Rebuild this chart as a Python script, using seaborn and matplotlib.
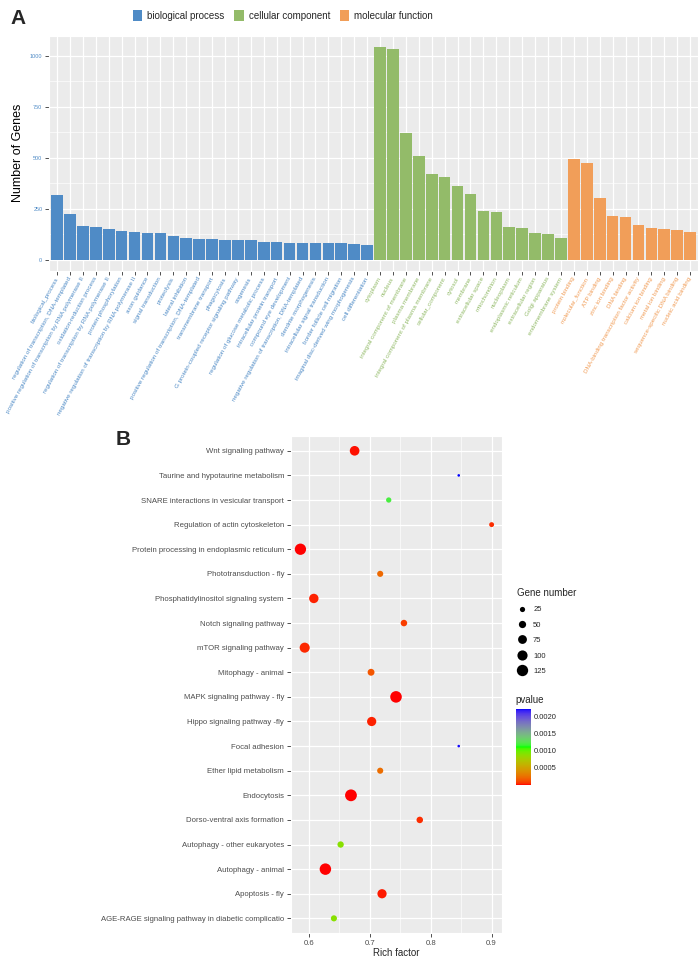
import numpy as np
import pandas as pd
import matplotlib
matplotlib.use("Agg")
import matplotlib.pyplot as plt
import seaborn as sns
from matplotlib.colors import ListedColormap, Normalize, to_rgb
from matplotlib.cm import ScalarMappable
from matplotlib.lines import Line2D
from matplotlib.patches import Patch

# ---- panel A data (GO terms) ----
bp_terms = ["biological_process", "regulation of transcription, DNA-templated",
            "positive regulation of transcription by RNA polymerase II", "oxidation-reduction process",
            "regulation of transcription by RNA polymerase II", "protein phosphorylation",
            "negative regulation of transcription by RNA polymerase II", "axon guidance",
            "signal transduction", "proteolysis", "lateral inhibition",
            "positive regulation of transcription, DNA-templated", "transmembrane transport",
            "phagocytosis", "G protein-coupled receptor signaling pathway", "oogenesis",
            "regulation of glucose metabolic process", "intracellular protein transport",
            "compound eye development", "negative regulation of transcription, DNA-templated",
            "dendrite morphogenesis", "intracellular signal transduction",
            "border follicle cell migration", "imaginal disc-derived wing morphogenesis",
            "cell differentiation"]
bp_counts = [320, 225, 167, 162, 152, 142, 139, 131, 131, 119, 109, 103, 101, 100, 99,
             98, 88, 86, 85, 85, 83, 81, 81, 78, 74]

cc_terms = ["cytoplasm", "nucleus", "integral component of membrane", "plasma membrane",
            "integral component of plasma membrane", "cellular_component", "cytosol", "membrane",
            "extracellular space", "mitochondrion", "nucleoplasm", "endoplasmic reticulum",
            "extracellular region", "Golgi apparatus", "endomembrane system"]
cc_counts = [1045, 1035, 622, 511, 420, 407, 363, 324, 240, 234, 160, 157, 134, 129, 109]

mf_terms = ["protein binding", "molecular_function", "ATP binding", "zinc ion binding",
            "DNA binding", "DNA-binding transcription factor activity", "calcium ion binding",
            "metal ion binding", "sequence-specific DNA binding", "nucleic acid binding"]
mf_counts = [497, 474, 302, 217, 211, 172, 155, 152, 147, 137]

group_names = ["biological process", "cellular component", "molecular function"]
group_colors = ["#4F8BC6", "#93BB69", "#F19E59"]

# ---- panel B data (KEGG enrichment) ----
pathways = ["Wnt signaling pathway", "Taurine and hypotaurine metabolism",
            "SNARE interactions in vesicular transport", "Regulation of actin cytoskeleton",
            "Protein processing in endoplasmic reticulum", "Phototransduction - fly",
            "Phosphatidylinositol signaling system", "Notch signaling pathway",
            "mTOR signaling pathway", "Mitophagy - animal", "MAPK signaling pathway - fly",
            "Hippo signaling pathway -fly", "Focal adhesion", "Ether lipid metabolism",
            "Endocytosis", "Dorso-ventral axis formation", "Autophagy - other eukaryotes",
            "Autophagy - animal", "Apoptosis - fly",
            "AGE-RAGE signaling pathway in diabetic complicatio"]
rich_factor = [0.675, 0.846, 0.731, 0.900, 0.586, 0.717, 0.608, 0.756, 0.593, 0.702,
               0.743, 0.703, 0.846, 0.717, 0.669, 0.782, 0.652, 0.627, 0.720, 0.641]
gene_number = [90, 5, 26, 22, 124, 35, 85, 40, 98, 45,
               130, 82, 5, 35, 135, 40, 38, 128, 82, 35]
pvalue = [0.00001, 0.00222, 0.00120, 0.00005, 0.000001, 0.00022, 0.00003, 0.00008, 0.00004, 0.00015,
          0.000002, 0.00003, 0.00221, 0.00024, 0.0, 0.00005, 0.00090, 0.000001, 0.00002, 0.00090]


# ggplot-style red -> green -> blue gradient (interpolated in CIELAB)
M = np.array([[0.4124564, 0.3575761, 0.1804375],
              [0.2126729, 0.7151522, 0.0721750],
              [0.0193339, 0.1191920, 0.9503041]])
WHITE = np.array([0.95047, 1.0, 1.08883])


def to_lab(rgb):
    c = np.array(rgb, float)
    lin = np.where(c <= 0.04045, c / 12.92, ((c + 0.055) / 1.055) ** 2.4)
    xyz = M @ lin / WHITE
    f = np.where(xyz > 0.008856, np.cbrt(xyz), 7.787 * xyz + 16 / 116)
    return np.array([116 * f[1] - 16, 500 * (f[0] - f[1]), 200 * (f[1] - f[2])])


def from_lab(lab):
    fy = (lab[0] + 16) / 116
    f = np.array([fy + lab[1] / 500, fy, fy - lab[2] / 200])
    xyz = np.where(f ** 3 > 0.008856, f ** 3, (f - 16 / 116) / 7.787) * WHITE
    lin = np.clip(np.linalg.solve(M, xyz), 0, 1)
    return np.clip(np.where(lin <= 0.0031308, 12.92 * lin, 1.055 * lin ** (1 / 2.4) - 0.055), 0, 1)


stops = [to_lab(to_rgb(c)) for c in ["red", "lime", "blue"]]
ramp = []
for t in np.linspace(0, 1, 256):
    i = 0 if t < 0.5 else 1
    u = (t - 0.5 * i) / 0.5
    ramp.append(from_lab(stops[i] * (1 - u) + stops[i + 1] * u))
pcmap = ListedColormap(ramp)
p_norm = (0.0, 0.00222)

sns.set_style("darkgrid", {"axes.facecolor": "#EBEBEB", "grid.color": "white",
                           "xtick.bottom": True, "ytick.left": True})
plt.rcParams["font.family"] = ["Liberation Sans", "DejaVu Sans"]

fig = plt.figure(figsize=(7, 9.6), dpi=100)

# ================= panel A =================
go = pd.DataFrame({
    "term": bp_terms + cc_terms + mf_terms,
    "count": bp_counts + cc_counts + mf_counts,
    "group": [group_names[0]] * len(bp_terms) + [group_names[1]] * len(cc_terms)
             + [group_names[2]] * len(mf_terms),
})
axA = fig.add_axes([0.0704, 0.7181, 0.9266, 0.2444])
sns.barplot(data=go, x="term", y="count", hue="group", palette=group_colors,
            hue_order=group_names, dodge=False, width=0.9, saturation=1,
            linewidth=0, legend=False, ax=axA)
axA.set_xlim(-0.6, len(go) - 0.4)
axA.set_ylim(-52, 1097)
axA.set_yticks([0, 250, 500, 750, 1000])
axA.set_yticks([125, 375, 625, 875], minor=True)
axA.grid(True, which="major", color="white", linewidth=0.9)
axA.grid(True, which="minor", axis="y", color="white", linewidth=0.45)
axA.xaxis.grid(True, color="white", linewidth=0.9)
axA.set_xticks(range(len(go)))
axA.set_xticklabels(go["term"], rotation=61, ha="right", va="center",
                    rotation_mode="anchor", fontsize=4.5)
for lab, grp in zip(axA.get_xticklabels(), go["group"]):
    lab.set_color(group_colors[group_names.index(grp)])
axA.tick_params(axis="both", which="major", length=3, width=0.6, color="#333333", pad=2)
axA.tick_params(axis="y", labelsize=4, labelcolor=group_colors[0])
axA.tick_params(which="minor", length=0)
axA.set_xlabel("")
axA.set_ylabel("Number of Genes", fontsize=9, color="black", labelpad=4)

handles = [Patch(facecolor=c, edgecolor="none") for c in group_colors]
fig.legend(handles, group_names, loc="center", bbox_to_anchor=(0.404, 0.984), ncol=3,
           frameon=False, fontsize=7, handlelength=1.0, handleheight=1.4,
           handletextpad=0.5, columnspacing=1.0)
fig.text(0.026, 0.981, "A", fontsize=15, fontweight="bold", ha="center", va="center")

# ================= panel B =================
kegg = pd.DataFrame({"pathway": pathways, "rich": rich_factor,
                     "genes": gene_number, "pvalue": pvalue})
axB = fig.add_axes([0.4157, 0.028, 0.3014, 0.5178])
size_range = (3, 72)
size_norm = (4, 135)
sns.scatterplot(data=kegg, x="rich", y="pathway", size="genes", sizes=size_range,
                size_norm=size_norm, hue="pvalue", palette=pcmap, hue_norm=p_norm,
                linewidth=0, legend=False, ax=axB, zorder=3)
axB.set_ylim(len(pathways) - 0.4, -0.6)
axB.set_xlim(0.5705, 0.917)
axB.set_xticks([0.6, 0.7, 0.8, 0.9])
axB.set_xticks([0.65, 0.75, 0.85], minor=True)
axB.grid(True, which="major", color="white", linewidth=0.9)
axB.grid(True, which="minor", axis="x", color="white", linewidth=0.45)
axB.tick_params(axis="both", which="major", length=3, width=0.6, color="#333333",
                labelsize=5.6, labelcolor="#4D4D4D", pad=2)
axB.tick_params(which="minor", length=0)
axB.set_ylabel("")
axB.set_xlabel("Rich factor", fontsize=7, labelpad=1)
fig.text(0.176, 0.542, "B", fontsize=15, fontweight="bold", ha="center", va="center")

# size legend
legend_vals = [25, 50, 75, 100, 125]
def area(v):
    return size_range[0] + (size_range[1] - size_range[0]) * (v - size_norm[0]) / (size_norm[1] - size_norm[0])
size_handles = [Line2D([], [], marker="o", ls="", color="black", markeredgewidth=0,
                       markersize=np.sqrt(area(v))) for v in legend_vals]
leg = fig.legend(size_handles, [str(v) for v in legend_vals], title="Gene number",
                 loc="upper left", bbox_to_anchor=(0.731, 0.393), frameon=False,
                 fontsize=5.5, title_fontsize=7, labelspacing=1.05, handlelength=1.2,
                 handletextpad=0.9, alignment="left", borderpad=0.2)

# p-value colour bar
fig.text(0.737, 1 - 700 / 960, "pvalue", fontsize=7, va="center")
cax = fig.add_axes([516 / 700, 1 - 785 / 960, 15 / 700, 76 / 960])
cb = fig.colorbar(ScalarMappable(norm=Normalize(*p_norm), cmap=pcmap), cax=cax)
cb.set_ticks([0.0005, 0.0010, 0.0015, 0.0020])
cb.set_ticklabels(["0.0005", "0.0010", "0.0015", "0.0020"])
cb.outline.set_visible(False)
cax.tick_params(labelsize=5.5, length=3, color="white", direction="in", pad=2)

fig.savefig("out.png", dpi=100)
